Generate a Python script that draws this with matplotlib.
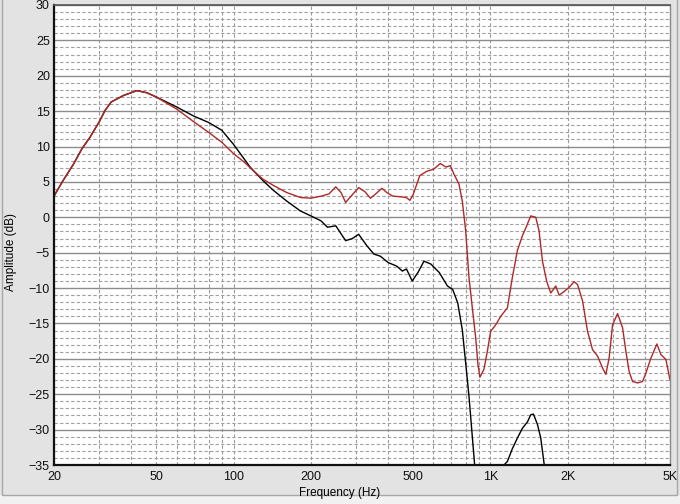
import matplotlib
matplotlib.use("Agg")
import matplotlib.pyplot as plt
from matplotlib.patches import Rectangle
import numpy as np

# red trace (Hz, dB)
red_freq = [20, 21.7, 23.8, 25.7, 27.6, 30, 31.6, 33.4, 37.2, 42, 46, 50, 60, 70, 80, 90,
            100, 110, 120, 130, 143, 161, 182, 200, 220, 235, 250, 262, 273, 290, 307,
            325, 341, 360, 378, 395, 416, 446, 470, 486, 500, 531, 565, 601, 638, 671,
            698, 721, 754, 777, 801, 825, 850, 876, 894, 910, 943, 973, 1002, 1048,
            1096, 1164, 1217, 1273, 1332, 1384, 1435, 1501, 1546, 1594, 1657, 1717,
            1796, 1850, 1934, 2024, 2117, 2183, 2283, 2387, 2497, 2611, 2732, 2813,
            2897, 2988, 3125, 3268, 3366, 3467, 3574, 3739, 3910, 4029, 4213, 4446,
            4610, 4822, 5000]
red_db = [3.0, 5.2, 7.5, 9.7, 11.3, 13.5, 15.1, 16.3, 17.2, 17.9, 17.6, 17.0, 15.3, 13.5,
          12.0, 10.6, 9.0, 7.8, 6.5, 5.4, 4.5, 3.5, 2.8, 2.7, 3.0, 3.3, 4.3, 3.5, 2.1,
          3.2, 4.2, 3.6, 2.7, 3.4, 4.1, 3.5, 3.0, 2.9, 2.8, 2.4, 3.2, 5.9, 6.5, 6.8,
          7.6, 7.1, 7.3, 6.1, 4.7, 2.3, -1.9, -8.5, -12.8, -17.0, -20.8, -22.6, -21.5,
          -18.9, -16.1, -15.2, -14.0, -12.8, -8.5, -4.7, -2.6, -1.2, 0.2, 0.0, -1.9,
          -6.2, -9.1, -10.7, -9.7, -11.0, -10.5, -9.9, -9.1, -9.5, -11.8, -16.1, -18.7,
          -19.6, -21.3, -22.2, -19.9, -15.2, -13.6, -15.6, -18.9, -21.8, -23.2, -23.4,
          -23.2, -22.0, -19.9, -17.9, -19.4, -20.1, -23.0]

# black trace (Hz, dB), drops below the bottom of the chart
black_freq = [20, 21.7, 23.8, 25.7, 27.6, 30, 31.6, 33.4, 37.2, 42, 46, 50, 60, 70, 80,
              90, 100, 116, 130, 143, 161, 182, 200, 219, 232, 250, 273, 290, 307, 330,
              352, 373, 400, 432, 454, 471, 496, 522, 551, 586, 632, 680, 713, 746, 777,
              801, 825, 850, 868, 880, 1100, 1129, 1164, 1217, 1273, 1332, 1394, 1435,
              1470, 1525, 1570, 1620, 1650]
black_db = [3.0, 5.2, 7.5, 9.7, 11.3, 13.5, 15.1, 16.3, 17.2, 17.9, 17.6, 17.0, 15.6,
            14.3, 13.4, 12.3, 10.3, 7.1, 5.2, 3.8, 2.3, 0.9, 0.2, -0.5, -1.4, -1.2, -3.3,
            -3.0, -2.4, -4.0, -5.2, -5.5, -6.4, -6.9, -7.6, -7.3, -9.0, -7.8, -6.2, -6.6,
            -7.8, -9.7, -10.2, -12.1, -15.9, -20.6, -25.3, -31.0, -35.0, -38.0, -38.0,
            -35.0, -34.5, -32.7, -31.2, -29.8, -28.9, -27.9, -27.8, -29.3, -31.2, -35.0,
            -38.0]

x_ticks = [20, 50, 100, 200, 500, 1000, 2000, 5000]
x_labels = ["20", "50", "100", "200", "500", "1K", "2K", "5K"]
x_grid = [30, 40, 60, 70, 80, 90, 300, 400, 600, 700, 800, 900, 3000, 4000]
y_ticks = list(range(-35, 31, 5))

plt.rcParams['font.family'] = ['Liberation Sans', 'DejaVu Sans']

fig = plt.figure(figsize=(6.8, 5.04), dpi=100, facecolor='#e3e3e3')
# lighter strips and the sunken panel frame of the screenshot
fig.patches.append(Rectangle((0, 0), 1, 9 / 504, transform=fig.transFigure,
                             facecolor='#f1f1f1', edgecolor='none'))
fig.patches.append(Rectangle((2 / 680, 9 / 504), 675 / 680, 1.0, transform=fig.transFigure,
                             fill=False, edgecolor='#a8a8a8', linewidth=1.0))
ax = fig.add_axes([54 / 680, 39 / 504, 616 / 680, 460 / 504])
ax.set_facecolor('white')

ax.set_xscale('log')
ax.set_xlim(20, 5000)
ax.set_ylim(-35, 30)

ax.set_xticks(x_ticks)
ax.set_xticklabels(x_labels)
ax.set_xticks(x_grid, minor=True)
ax.xaxis.set_minor_formatter(matplotlib.ticker.NullFormatter())
ax.set_yticks(y_ticks)
ax.set_yticks(np.arange(-35, 31, 1), minor=True)

dash = (0, (3, 2))
ax.grid(which='both', axis='x', color='#9a9a9a', linestyle=dash, linewidth=0.8)
ax.grid(which='minor', axis='y', color='#a0a0a0', linestyle=dash, linewidth=0.8)
ax.grid(which='major', axis='y', color='#8c8c8c', linestyle='-', linewidth=1.0)
ax.set_axisbelow(True)

ax.tick_params(which='both', length=0, labelsize=9, colors='#111111')
ax.tick_params(axis='x', pad=4)
ax.tick_params(axis='y', pad=3)

for side in ['left', 'bottom']:
    ax.spines[side].set_color('#111111')
    ax.spines[side].set_linewidth(1.6)
ax.spines['top'].set_color('#555555')
ax.spines['top'].set_linewidth(1.2)
ax.spines['right'].set_color('#888888')
ax.spines['right'].set_linewidth(1.0)

ax.plot(black_freq, black_db, color='black', linewidth=1.0)
ax.plot(red_freq, red_db, color='#b02828', linewidth=1.0)

fig.text(0.5, 1 - 493 / 504, 'Frequency (Hz)', ha='center', va='center', fontsize=8.5)
fig.text(11 / 680, 0.5, 'Amplitude (dB)', ha='center', va='center', rotation=90, fontsize=8.5)

fig.savefig('out.png', dpi=100, facecolor=fig.get_facecolor())
